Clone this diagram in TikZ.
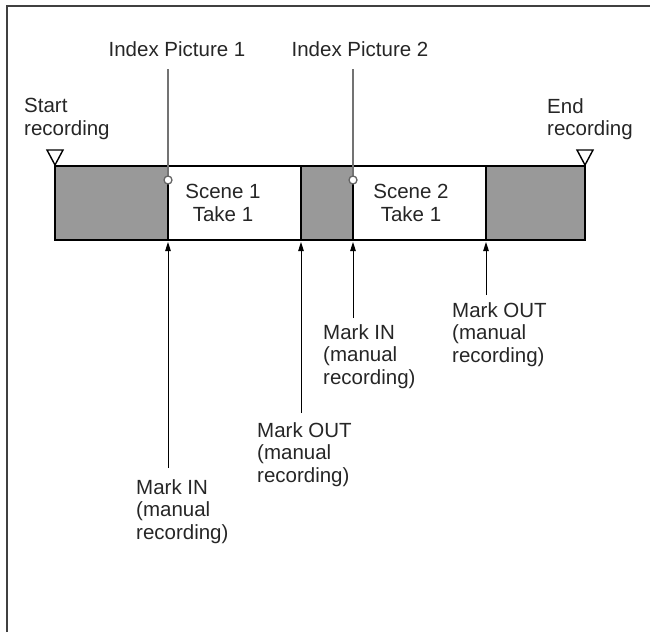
\documentclass[tikz,border=0pt]{standalone}
\usepackage{fontspec}
\setmainfont{Liberation Sans}
\usetikzlibrary{arrows.meta}
\begin{document}
\begin{tikzpicture}[x=1pt,y=-1pt,
  lbl/.style={font=\fontsize{20.5}{22.5}\selectfont, text=black!85, inner sep=0pt, align=left, anchor=north west},
  seg/.style={draw=black, line width=1.2pt, inner sep=0pt, outer sep=0pt, minimum height=74pt, anchor=north west},
  grayseg/.style={seg, fill=black!40},
  whiteseg/.style={seg, fill=white},
  barframe/.style={draw=black, line width=2pt},
  indexline/.style={draw=black!55, line width=2pt},
  indexdot/.style={draw=black!60, fill=white, line width=1.3pt},
  recmark/.style={draw=black, fill=white, line width=1.4pt, line join=miter},
  markarrow/.style={draw=black, line width=1pt, -{Triangle[length=9pt,width=5.5pt]}}]
  \useasboundingbox (0,0) rectangle (650,632);
  \draw[black!75, line width=1.6pt] (7,632) -- (7,6) -- (650,6);

  % the recorded bar
  \node[grayseg, minimum width=113pt] (g1) at (55,166) {};
  \node[whiteseg, minimum width=133pt] (w1) at (g1.north east) {};
  \node[grayseg, minimum width=52pt] (g2) at (w1.north east) {};
  \node[whiteseg, minimum width=133pt] (w2) at (g2.north east) {};
  \node[grayseg, minimum width=99pt] (g3) at (w2.north east) {};
  \draw[barframe] (g1.north west) rectangle (g3.south east);
  \node[lbl, align=center, anchor=north] (scene1) at (223,184) {Scene 1\\Take 1};
  \node[lbl, align=center, anchor=north] (scene2) at (411,184) {Scene 2\\Take 1};

  % start and end of recording
  \node[lbl] (start) at (24,98) {Start\\recording};
  \node[lbl] (end) at (547,98) {End\\recording};
  \coordinate (startmark) at (g1.north west);
  \coordinate (endmark) at (g3.north east);
  \draw[recmark] ([yshift=1pt]startmark) -- ++(-8,-15) -- ++(16,0) -- cycle;
  \draw[recmark] ([yshift=1pt]endmark) -- ++(-8,-15) -- ++(16,0) -- cycle;

  % index pictures
  \node[lbl, anchor=south] (idx1) at (177,57) {Index Picture 1};
  \node[lbl, anchor=south] (idx2) at (360,57) {Index Picture 2};
  \coordinate (dot1) at (168,180);
  \coordinate (dot2) at (353,180);
  \draw[indexline] ([yshift=-12pt]idx1.south -| dot1) -- (dot1);
  \draw[indexline] ([yshift=-12pt]idx2.south -| dot2) -- (dot2);
  \filldraw[indexdot] (dot1) circle (4pt);
  \filldraw[indexdot] (dot2) circle (4pt);

  % mark in / mark out
  \coordinate (tip1) at (w1.south west);
  \coordinate (tip2) at (g2.south west);
  \coordinate (tip3) at (w2.south west);
  \coordinate (tip4) at (g3.south west);
  \node[lbl] (mkin1) at (136,479) {Mark IN\\(manual\\recording)};
  \node[lbl] (mkout1) at (257,422) {Mark OUT\\(manual\\recording)};
  \node[lbl] (mkin2) at (323,324) {Mark IN\\(manual\\recording)};
  \node[lbl] (mkout2) at (452,302) {Mark OUT\\(manual\\recording)};
  \draw[markarrow] ([yshift=11pt]mkin1.north -| tip1) -- ([yshift=-2pt]tip1);
  \draw[markarrow] ([yshift=9pt]mkout1.north -| tip2) -- ([yshift=-2pt]tip2);
  \draw[markarrow] ([yshift=6pt]mkin2.north -| tip3) -- ([yshift=-2pt]tip3);
  \draw[markarrow] ([yshift=7pt]mkout2.north -| tip4) -- ([yshift=-2pt]tip4);
\end{tikzpicture}
\end{document}
